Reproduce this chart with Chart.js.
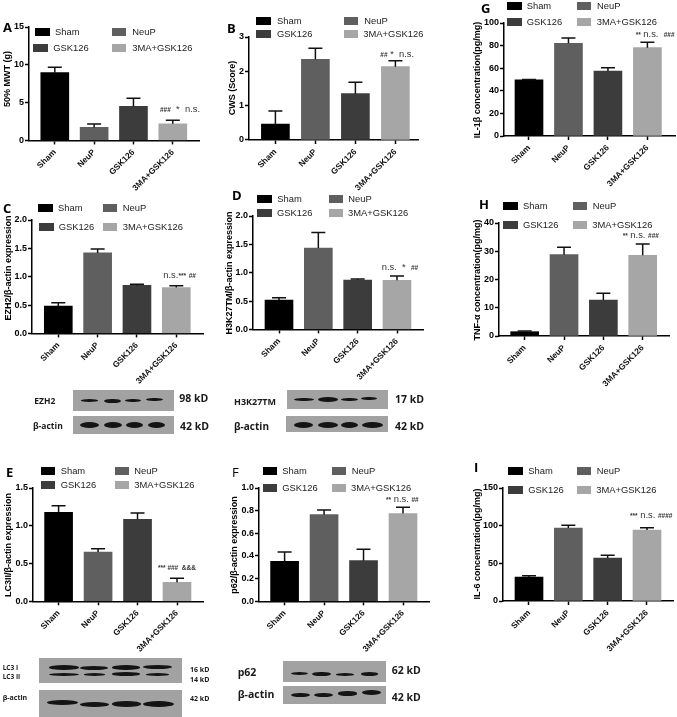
<!DOCTYPE html>
<html lang="en">
<head>
<meta charset="UTF-8">
<title>GSK126 panels</title>
<script src="https://cdn.jsdelivr.net/npm/chart.js"></script>
<style>
    html, body { margin: 0; background: #fff; }
    #page { position: relative; width: 677px; height: 717px; overflow: hidden; font-family: "Liberation Sans", Arial, sans-serif; color: #111; filter: blur(0.3px); }
    #page canvas { position: absolute; }
    .txt { position: absolute; white-space: nowrap; transform: translateY(-50%); line-height: 1; }
    .swatch { position: absolute; height: 8px; transform: translateY(-50%); }
    .legend { font-size: 9.4px; color: #222; }
    .letter { font-family: "Open Sans", sans-serif; font-weight: 700; font-size: 13px; color: #000; }
    .ytitle { position: absolute; white-space: nowrap; font-weight: 700; font-size: 9px; line-height: 1; color: #000; transform: translate(-50%, -50%) rotate(-90deg); }
    .sig { font-size: 9.4px; color: #333; }
    .sig b { font-size: 6.5px; }
    .blot { position: absolute; background: #a2a2a2; overflow: hidden; }
    .band { position: absolute; background: #141414; border-radius: 50%; filter: blur(0.7px); }
    .blab { font-family: "Open Sans", sans-serif; font-weight: 700; color: #1a1a1a; }
</style>
</head>
<body>
<div id="page"></div>
<script>
const categories = ['Sham', 'NeuP', 'GSK126', '3MA+GSK126'];
const barColors = ['#000000', '#5f5f5f', '#3c3c3c', '#a6a6a6'];

// values and upper error limits
const mwtValues = [8.96, 1.72, 4.5, 2.2];
const mwtErrors = [9.66, 2.16, 5.56, 2.65];
const mwtTicks = ['0', '5', '10', '15'];

const cwsValues = [0.466, 2.35, 1.35, 2.136];
const cwsErrors = [0.845, 2.67, 1.68, 2.31];
const cwsTicks = ['0', '1', '2', '3'];

const il1Values = [49.6, 82, 57.5, 78.2];
const il1Errors = [50.1, 86.7, 60.5, 82.9];
const il1Ticks = ['0', '20', '40', '60', '80', '100'];

const ezh2Values = [0.482, 1.42, 0.847, 0.81];
const ezh2Errors = [0.54, 1.49, 0.865, 0.84];
const ezh2Ticks = ['0.0', '0.5', '1.0', '1.5', '2.0'];

const h3kValues = [0.518, 1.435, 0.87, 0.865];
const h3kErrors = [0.56, 1.71, 0.888, 0.94];
const h3kTicks = ['0.0', '0.5', '1.0', '1.5', '2.0'];

const tnfValues = [1.53, 28.8, 12.75, 28.55];
const tnfErrors = [1.77, 31.4, 15.1, 32.6];
const tnfTicks = ['0', '10', '20', '30', '40'];

const lc3Values = [1.178, 0.653, 1.085, 0.251];
const lc3Errors = [1.266, 0.697, 1.169, 0.304];
const lc3Ticks = ['0.0', '0.5', '1.0', '1.5'];

const p62Values = [0.353, 0.765, 0.359, 0.774];
const p62Errors = [0.435, 0.806, 0.459, 0.83];
const p62Ticks = ['0.0', '0.2', '0.4', '0.6', '0.8', '1.0'];

const il6Values = [31.9, 96.9, 57, 94.2];
const il6Errors = [33.6, 100.4, 60.6, 97.3];
const il6Ticks = ['0', '50', '100', '150'];

const panels = [
    { letter: 'A', lx: 3, ly: 27, values: mwtValues, errors: mwtErrors, ticks: mwtTicks, title: '50% MWT (g)', tx: 7, ty: 79,
      left: 28.7, right: 199.3, top: 27.3, bottom: 140.7, first: 54.5, last: 172.5,
      legendY: [32, 48], sw: [35, 112.3, 33.3, 112.3], tw: [55, 132.3, 53.3, 132.3], sig: [160, 109, '<b>###</b>&nbsp; * &nbsp;n.s.'] },
    { letter: 'B', lx: 227, ly: 28, values: cwsValues, errors: cwsErrors, ticks: cwsTicks, title: 'CWS (Score)', tx: 232, ty: 88,
      left: 249.3, right: 419, top: 36.7, bottom: 139.7, first: 275.7, last: 395.7,
      legendY: [20.7, 34.3], sw: [256.3, 344.3, 256.3, 343.7], tw: [277, 364.3, 277, 363.3], sig: [380.3, 54.3, '<b>##</b> * &nbsp;n.s.'] },
    { letter: 'G', lx: 481, ly: 8, values: il1Values, errors: il1Errors, ticks: il1Ticks, title: 'IL-1β concentration(pg/mg)', tx: 477, ty: 80,
      left: 504.3, right: 675.7, top: 23.3, bottom: 136.3, first: 529.3, last: 647.7,
      legendY: [5.7, 21.7], sw: [507, 577, 507, 577], tw: [526.7, 597, 526.7, 596.7], sig: [635.7, 34.3, '<b>**</b> n.s. &nbsp;<b>###</b>'] },
    { letter: 'C', lx: 3, ly: 208, values: ezh2Values, errors: ezh2Errors, ticks: ezh2Ticks, title: 'EZH2/β-actin expression', tx: 8.3, ty: 268,
      left: 32, right: 203.3, top: 220.3, bottom: 333.7, first: 58.3, last: 176.3,
      legendY: [207.7, 226.7], sw: [38, 103.3, 39, 103.3], tw: [58, 122.7, 58.7, 122.7], sig: [163.3, 274.7, 'n.s.<b>***</b> <b>##</b>'] },
    { letter: 'D', lx: 232, ly: 195, values: h3kValues, errors: h3kErrors, ticks: h3kTicks, title: 'H3K27TM/β-actin expression', tx: 229.3, ty: 273,
      left: 253.3, right: 423.3, top: 216.3, bottom: 329.7, first: 279.3, last: 397.3,
      legendY: [199, 213], sw: [257.3, 328.7, 257.3, 328.7], tw: [277.3, 348.3, 277, 348], sig: [381.7, 267, 'n.s. &nbsp;* &nbsp;<b>##</b>'] },
    { letter: 'H', lx: 479, ly: 204, values: tnfValues, errors: tnfErrors, ticks: tnfTicks, title: 'TNF-α concentration(pg/mg)', tx: 477, ty: 280,
      left: 499, right: 669, top: 223.3, bottom: 336.3, first: 524.7, last: 642.7,
      legendY: [205.7, 225], sw: [503, 573, 503, 573], tw: [523, 592.7, 523, 592.3], sig: [622.7, 235, '<b>**</b> n.s. <b>###</b>'] },
    { letter: 'E', lx: 6, ly: 472, values: lc3Values, errors: lc3Errors, ticks: lc3Ticks, title: 'LC3II/β-actin expression', tx: 8.3, ty: 544.5,
      left: 32.7, right: 203.3, top: 487.7, bottom: 601, first: 58.3, last: 176.7,
      legendY: [470.7, 485.3], sw: [40.7, 114.7, 40.7, 114.7], tw: [60.7, 134.3, 60.7, 134.3], sig: [158, 566.7, '<b>*** ### &nbsp;&amp;&amp;&amp;</b>'] },
    { letter: 'F', lx: 232, ly: 472, values: p62Values, errors: p62Errors, ticks: p62Ticks, title: 'p62/β-actin expression', tx: 234, ty: 544.5,
      left: 258.7, right: 429.3, top: 487.7, bottom: 601, first: 284.3, last: 402.7, thinLetter: true,
      legendY: [470.7, 488], sw: [262.7, 332, 262.7, 332], tw: [282.3, 351.7, 282.3, 351], sig: [386, 498.7, '<b>**</b> n.s. <b>##</b>'] },
    { letter: 'I', lx: 474, ly: 467, values: il6Values, errors: il6Errors, ticks: il6Ticks, title: 'IL-6 concentration(pg/mg)', tx: 477.3, ty: 544,
      left: 503.3, right: 674, top: 488, bottom: 601, first: 529.3, last: 647.3,
      legendY: [470.7, 489.7], sw: [508.3, 577.3, 508.3, 577.3], tw: [528.3, 596.7, 528.3, 596.3], sig: [630, 515, '<b>***</b> n.s. <b>####</b>'] }
];

const page = document.getElementById('page');

function addText(cls, x, y, html, size) {
    const el = document.createElement('div');
    el.className = 'txt ' + cls;
    el.style.left = x + 'px';
    el.style.top = y + 'px';
    if (size) el.style.fontSize = size + 'px';
    el.innerHTML = html;
    page.appendChild(el);
    return el;
}

// draws only the upper whisker, above each bar
const errorBars = {
    id: 'errorBars',
    afterDatasetsDraw(chart, args, opts) {
        const ctx = chart.ctx;
        const xs = chart.scales.x, ys = chart.scales.y;
        ctx.save();
        ctx.strokeStyle = '#111';
        ctx.lineWidth = 1.5;
        opts.tops.forEach((top, i) => {
            const px = xs.getPixelForValue(i + 1);
            const y0 = ys.getPixelForValue(opts.values[i]);
            const y1 = ys.getPixelForValue(top);
            ctx.beginPath();
            ctx.moveTo(px, y0);
            ctx.lineTo(px, y1);
            ctx.moveTo(px - 7, y1);
            ctx.lineTo(px + 7, y1);
            ctx.stroke();
        });
        ctx.restore();
    }
};

function drawPanel(p) {
    const padLeft = 24, padTop = 8, padRight = 2, padBottom = 72;
    const canvas = document.createElement('canvas');
    const w = p.right - p.left + padLeft + padRight;
    const h = p.bottom - p.top + padTop + padBottom;
    canvas.width = Math.round(w);
    canvas.height = Math.round(h);
    canvas.style.left = (p.left - padLeft) + 'px';
    canvas.style.top = (p.top - padTop) + 'px';
    page.appendChild(canvas);

    const step = (p.last - p.first) / 3;
    const family = '"Liberation Sans", Arial, sans-serif';
    new Chart(canvas.getContext('2d'), {
        type: 'bar',
        data: {
            datasets: [{
                data: p.values.map((v, i) => ({ x: i + 1, y: v })),
                backgroundColor: barColors,
                barThickness: 28
            }]
        },
        plugins: [errorBars],
        options: {
            responsive: false,
            animation: false,
            layout: { padding: { left: 0, top: padTop, right: canvas.width - padLeft - (p.right - p.left), bottom: 0 } },
            plugins: {
                legend: { display: false },
                tooltip: { enabled: false },
                errorBars: { tops: p.errors, values: p.values }
            },
            scales: {
                x: {
                    type: 'linear',
                    offset: false,
                    min: 1 - (p.first - p.left) / step,
                    max: 4 + (p.right - p.last) / step,
                    grid: { offset: false, drawOnChartArea: false, color: '#000', tickLength: 4, tickWidth: 1.5 },
                    border: { color: '#000', width: 1.5 },
                    afterBuildTicks(s) { s.ticks = categories.map((c, i) => ({ value: i + 1 })); },
                    afterFit(s) {
                        s.height = canvas.height - padTop - (p.bottom - p.top);
                        s.paddingLeft = s.paddingRight = s.paddingTop = s.paddingBottom = 0;
                    },
                    ticks: {
                        color: '#111', font: { family, size: 8.4, weight: 'bold' }, minRotation: 45, maxRotation: 45, autoSkip: false, padding: 3,
                        callback: v => categories[v - 1]
                    }
                },
                y: {
                    min: 0,
                    max: Number(p.ticks[p.ticks.length - 1]),
                    grid: { drawOnChartArea: false, color: '#000', tickLength: 4, tickWidth: 1.5 },
                    border: { color: '#000', width: 1.5 },
                    afterBuildTicks(s) { s.ticks = p.ticks.map(t => ({ value: Number(t) })); },
                    afterFit(s) {
                        s.width = padLeft;
                        s.paddingLeft = s.paddingRight = s.paddingTop = s.paddingBottom = 0;
                    },
                    ticks: {
                        color: '#000', font: { family, size: 9, weight: 'bold' }, padding: 1,
                        callback: v => p.ticks.find(t => Number(t) === v)
                    }
                }
            }
        }
    });

    // y title, legend, panel letter, significance marks
    const yt = document.createElement('div');
    yt.className = 'ytitle';
    yt.style.left = p.tx + 'px';
    yt.style.top = p.ty + 'px';
    yt.textContent = p.title;
    page.appendChild(yt);

    categories.forEach((c, i) => {
        const y = p.legendY[i < 2 ? 0 : 1];
        const sw = document.createElement('div');
        sw.className = 'swatch';
        sw.style.left = p.sw[i] + 'px';
        sw.style.top = y + 'px';
        sw.style.width = (i % 2 === 0 ? 14.5 : 14) + 'px';
        sw.style.background = barColors[i];
        page.appendChild(sw);
        addText('legend', p.tw[i], y, c);
    });

    const letter = addText('letter', p.lx, p.ly, p.letter);
    if (p.thinLetter) letter.style.fontWeight = 400;
    addText('sig', p.sig[0], p.sig[1], p.sig[2]);
}

panels.forEach(drawPanel);

// western blot strips (picture content, not chart data)
const blots = [
    { x: 72.7, y: 390.3, w: 101, h: 20.7, bands: [[81, 98, 400.3, 2.6], [104, 120.7, 401, 4.5], [125, 140.7, 400.3, 3.5], [145.7, 162.7, 399.5, 3.5]] },
    { x: 72.7, y: 415.7, w: 101, h: 18.6, bands: [[80, 99, 425, 6], [104, 122, 425, 6], [126, 143, 425, 6], [148, 165, 425, 6]] },
    { x: 287.3, y: 390.3, w: 101, h: 18.7, bands: [[294, 314.3, 399.5, 3.5], [318.3, 338.3, 399.5, 5], [341, 357.7, 399.5, 3.5], [361.3, 376.7, 398.5, 3.5]] },
    { x: 286, y: 415.7, w: 101.7, h: 16.6, bands: [[294, 313, 425, 6], [318, 338, 425, 6], [341, 358, 425, 6], [362, 383, 425, 6]] },
    { x: 39, y: 658.3, w: 143.3, h: 24.7, bands: [[49.3, 79, 667.7, 4.5], [80, 108.3, 667.7, 4], [111.7, 140, 667.7, 4.5], [143.3, 171.7, 667.2, 4], [49.3, 79, 674.3, 3], [84, 105, 674.5, 2.6], [111.7, 140, 674.3, 3.6], [146, 169, 674.5, 2.6]] },
    { x: 39, y: 690, w: 143.3, h: 26.7, bands: [[47, 78, 702, 5], [80, 109, 704, 5], [112, 141, 704, 5.5], [143, 174, 703.5, 6]] },
    { x: 283.3, y: 661.3, w: 102.4, h: 20.7, bands: [[291, 307.7, 674, 3], [312.3, 331, 674, 4.5], [336, 354, 674.5, 2.6], [360.7, 378.3, 674, 3.6]] },
    { x: 283.3, y: 685.7, w: 102.4, h: 18.6, bands: [[291, 310, 695, 4], [314, 333, 695, 4], [338, 357, 693.5, 4.2], [362, 381, 693, 5]] }
];
const blotLabels = [
    ['EZH2', 34.3, 401, 8.5], ['98 kD', 179.3, 398, 10.5], ['β-actin', 33, 425.5, 8.5], ['42 kD', 180, 426, 10.5],
    ['H3K27TM', 234, 400.7, 9], ['17 kD', 395, 399, 10.5], ['β-actin', 234, 425.5, 10], ['42 kD', 395, 425.5, 10.5],
    ['LC3 I', 2.7, 668, 6.5], ['LC3 II', 2.7, 677.3, 6.5], ['16 kD', 190, 668.7, 7], ['14 kD', 190, 678.7, 7],
    ['β-actin', 2.7, 696.7, 7], ['42 kD', 190, 698, 7],
    ['p62', 237.7, 671.7, 10.5], ['62 kD', 391.7, 670.3, 10.5], ['β-actin', 237.7, 694.3, 10.5], ['42 kD', 391.7, 697, 10.5]
];

blots.forEach(b => {
    const el = document.createElement('div');
    el.className = 'blot';
    el.style.cssText = `left:${b.x}px;top:${b.y}px;width:${b.w}px;height:${b.h}px`;
    b.bands.forEach(([x1, x2, yc, th]) => {
        const band = document.createElement('div');
        band.className = 'band';
        band.style.cssText = `left:${x1 - b.x}px;top:${yc - b.y - th / 2}px;width:${x2 - x1}px;height:${th}px`;
        el.appendChild(band);
    });
    page.appendChild(el);
});
blotLabels.forEach(([t, x, y, s]) => addText('blab', x, y, t, s));
</script>
</body>
</html>
